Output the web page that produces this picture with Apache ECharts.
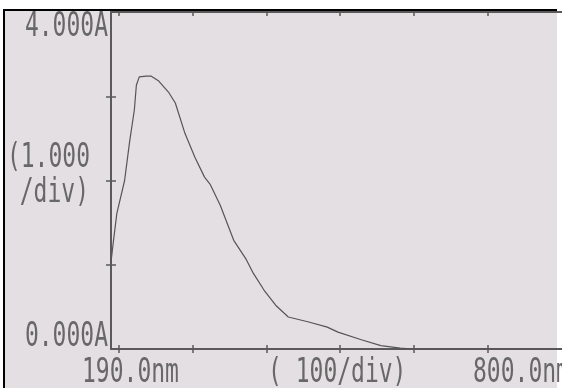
<!DOCTYPE html>
<html>
<head>
<meta charset="utf-8">
<script src="https://cdn.jsdelivr.net/npm/echarts@6/dist/echarts.min.js"></script>
<style>
  html, body { margin: 0; padding: 0; background: #ffffff; }
  #chart { width: 562px; height: 388px; }
</style>
</head>
<body>
<div id="chart"></div>
<script>
// Absorbance spectrum, 190–800 nm
const wavelength = [190, 192.6, 197.9, 208.4, 215, 221.6, 224.3, 228.2, 237.4, 244, 254.6, 267.7, 277, 290, 303.3, 316.5, 324.4, 337.6, 356, 373.1, 382.4, 396.9, 412.7, 429.8, 457.5, 482.5, 497, 528.6, 555, 581.3, 598.4, 650, 700, 750, 800];
const absorbance = [1.03, 1.23, 1.61, 2.0, 2.45, 2.84, 3.13, 3.23, 3.24, 3.24, 3.18, 3.05, 2.92, 2.56, 2.28, 2.04, 1.95, 1.71, 1.29, 1.06, 0.90, 0.70, 0.52, 0.38, 0.32, 0.26, 0.20, 0.11, 0.04, 0.01, 0, 0, 0, 0, 0];

// Axis range and tick positions
const xMin = 190, xMax = 800;
const xTicks = [200, 300, 400, 500, 600, 700];
const yMin = 0, yMax = 4;
const yTicks = [1, 2, 3];

// Printed scale annotations
const xLabels = ['190.0nm', '( 100/div)', '800.0nm'];
const yLabels = ['4.000A', '(1.000', '/div)', '0.000A'];

const ink = '#5a5a5a';
const textInk = '#686868';
const paper = '#e4dfe2';
const font = '"DejaVu Sans Mono", "Liberation Mono", monospace';

const chart = echarts.init(document.getElementById('chart'), null, { renderer: 'canvas' });

function label(text, x, y, align) {
  return {
    type: 'text', x: x, y: y, scaleY: 1.5, z: 10,
    style: { text: text, fill: textInk, font: '23px ' + font, align: align, verticalAlign: 'middle' }
  };
}

const hidden = { show: false };
const tickStyle = { color: ink, width: 1.5 };

chart.setOption({
  animation: false,
  backgroundColor: '#ffffff',
  grid: { left: 111, right: -11, top: 12, bottom: 39, show: false },
  graphic: [
    // paper sheet and scanned edge
    { type: 'rect', z: -10, shape: { x: 4, y: 10, width: 553, height: 378 }, style: { fill: paper } },
    { type: 'rect', z: -9, shape: { x: 3, y: 9, width: 2, height: 379 }, style: { fill: '#000000' } },
    { type: 'rect', z: -9, shape: { x: 3, y: 9, width: 554, height: 2 }, style: { fill: '#000000' } },
    label(yLabels[0], 108, 27, 'right'),
    label(yLabels[1], 90, 158, 'right'),
    label(yLabels[2], 89, 193, 'right'),
    label(yLabels[3], 108, 337, 'right'),
    label(xLabels[0], 82, 373, 'left'),
    label(xLabels[1], 268, 373, 'left'),
    label(xLabels[2], 473, 373, 'left')
  ],
  xAxis: [
    {
      type: 'value', min: xMin, max: xMax, position: 'bottom',
      axisLine: { show: true, onZero: false, lineStyle: { color: ink, width: 2 } },
      axisTick: { show: true, inside: false, length: 4, customValues: xTicks, lineStyle: tickStyle },
      axisLabel: hidden, splitLine: hidden
    },
    {
      type: 'value', min: xMin, max: xMax, position: 'bottom',
      axisLine: { show: false, onZero: false },
      axisTick: { show: true, inside: true, length: 4, customValues: xTicks, lineStyle: tickStyle },
      axisLabel: hidden, splitLine: hidden
    },
    {
      type: 'value', min: xMin, max: xMax, position: 'top',
      axisLine: { show: true, onZero: false, lineStyle: { color: ink, width: 2 } },
      axisTick: { show: true, inside: true, length: 4, customValues: xTicks, lineStyle: tickStyle },
      axisLabel: hidden, splitLine: hidden
    }
  ],
  yAxis: [
    {
      type: 'value', min: yMin, max: yMax, position: 'left',
      axisLine: { show: true, onZero: false, lineStyle: { color: ink, width: 2 } },
      axisTick: { show: true, inside: false, length: 5, customValues: yTicks, lineStyle: tickStyle },
      axisLabel: hidden, splitLine: hidden
    },
    {
      type: 'value', min: yMin, max: yMax, position: 'left',
      axisLine: { show: false, onZero: false },
      axisTick: { show: true, inside: true, length: 5, customValues: yTicks, lineStyle: tickStyle },
      axisLabel: hidden, splitLine: hidden
    }
  ],
  series: [{
    type: 'line',
    xAxisIndex: 0, yAxisIndex: 0,
    data: wavelength.map((w, i) => [w, absorbance[i]]),
    showSymbol: false,
    smooth: false,
    lineStyle: { color: '#555555', width: 1.2 },
    z: 5
  }]
});
</script>
</body>
</html>
